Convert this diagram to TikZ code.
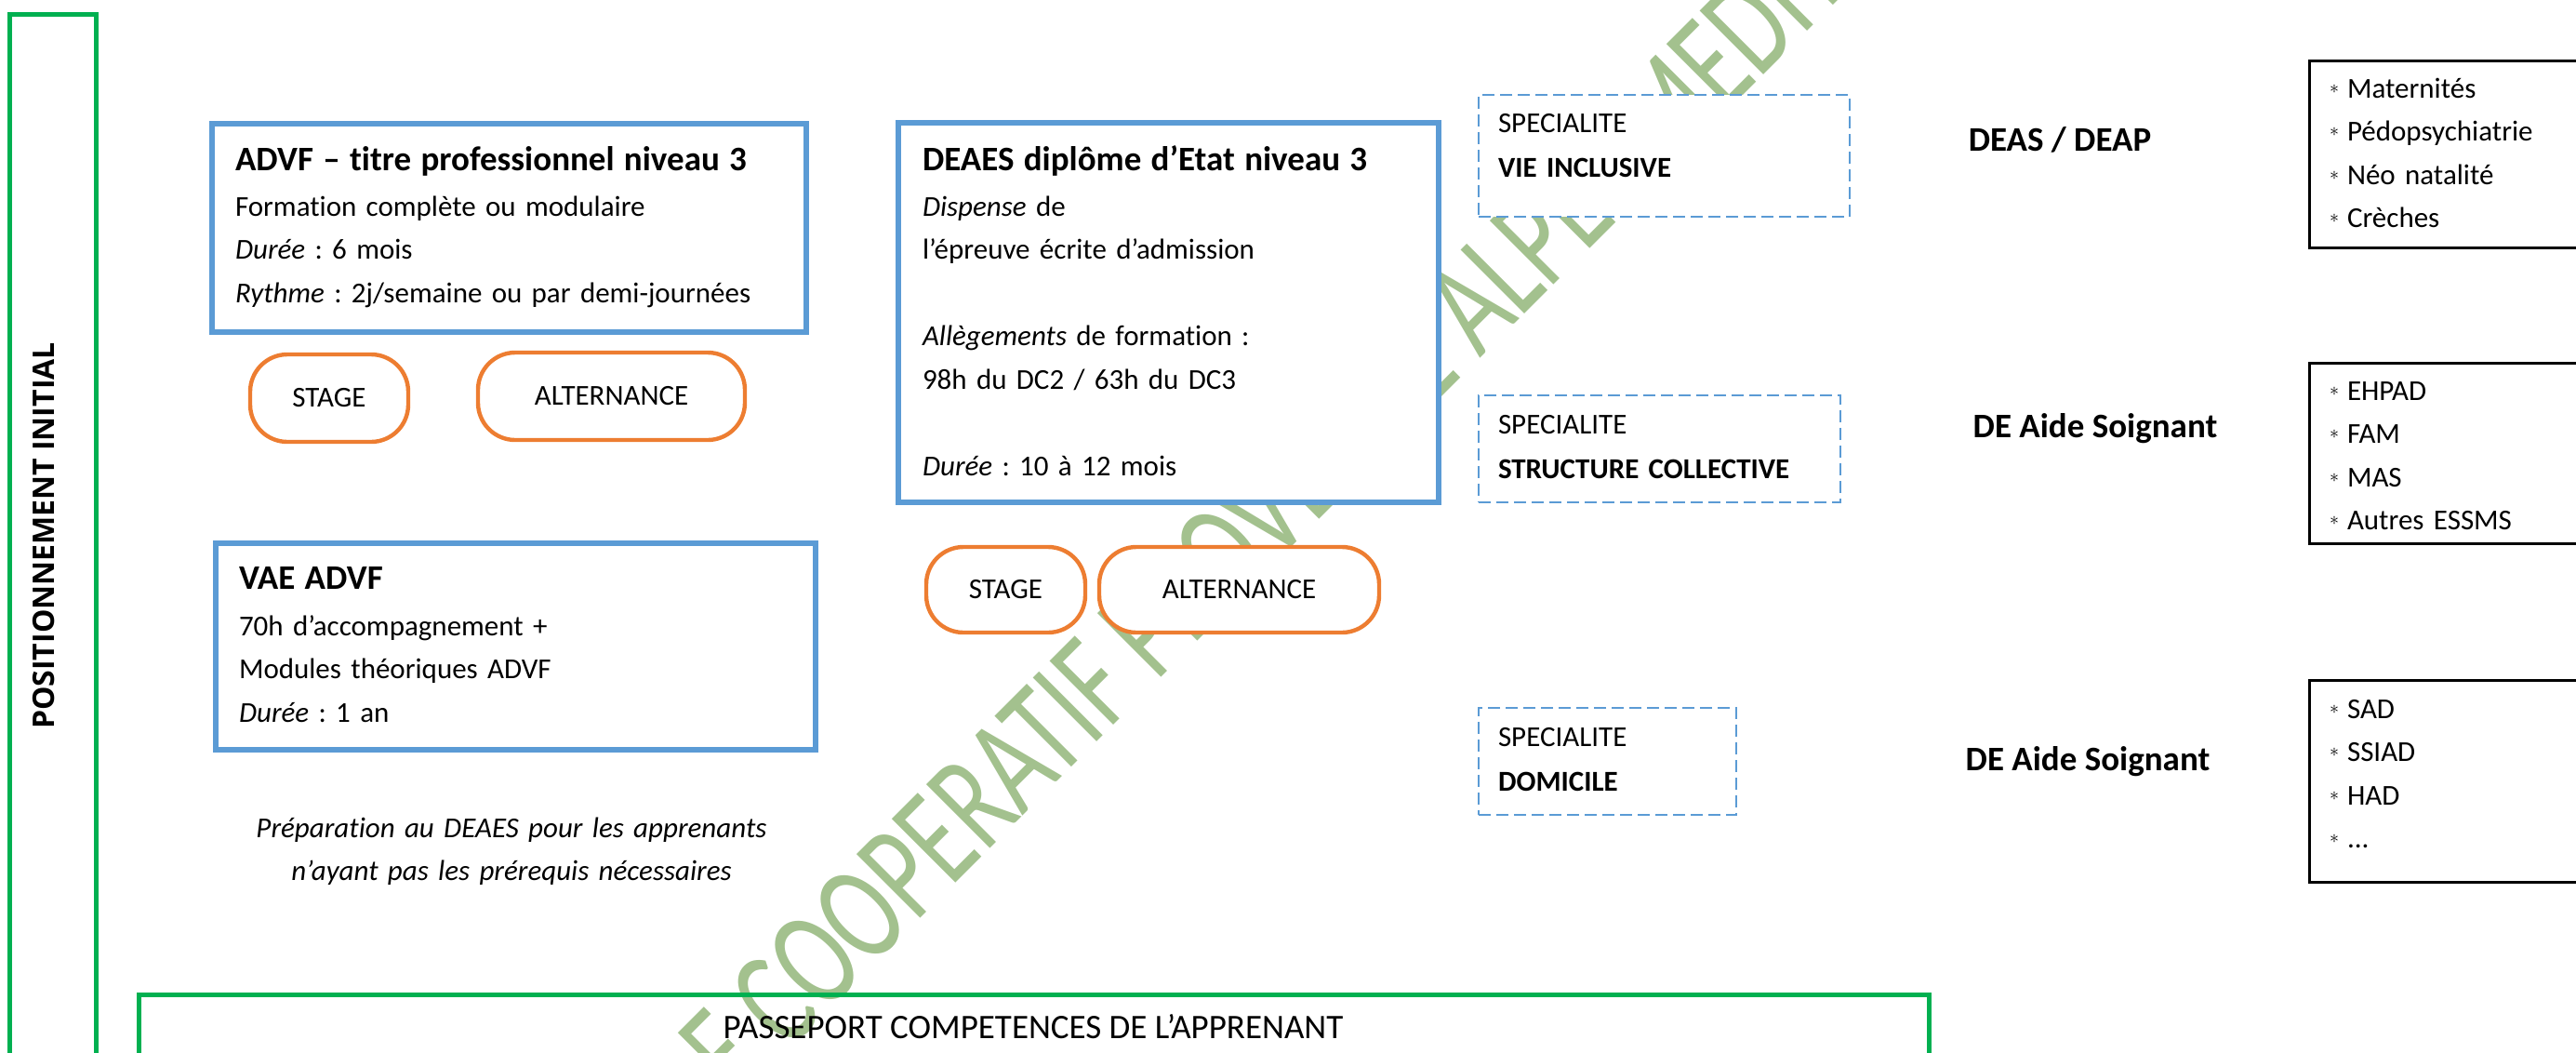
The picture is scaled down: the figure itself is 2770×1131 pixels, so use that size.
\documentclass[tikz,border=0pt]{standalone}
\usepackage{graphicx}
\usepackage{fontspec}
\setmainfont{Carlito}[Ligatures=NoCommon]
\newfontfamily\sidefont{Open Sans}
\frenchspacing
\definecolor{boxblue}{HTML}{5B9BD5}
\definecolor{pillorange}{HTML}{ED7D31}
\definecolor{framegreen}{HTML}{00B050}
\definecolor{markgreen}{HTML}{A3C18E}
\newcommand{\bodyfont}{\fontsize{15.5}{23.25}\selectfont}
\newcommand{\headfont}{\fontsize{18.5}{23.25}\selectfont\bfseries}
\newcommand{\markfont}{\fontsize{75.5}{75.5}\selectfont}
\newcommand{\bul}{\makebox[9.5pt][l]{\raisebox{2.5pt}{\fontsize{10}{10}\selectfont$\ast$}}}
\begin{document}
\begin{tikzpicture}[x=0.5pt, y=-0.5pt, inner sep=0, outer sep=0,
  frame/.style={draw=framegreen, line width=2.5pt},
  bluebox/.style={draw=boxblue, line width=3pt, fill=white},
  pill/.style={draw=pillorange, line width=2.2pt, fill=white, rounded corners=20pt, font=\bodyfont},
  dashbox/.style={draw=boxblue, line width=1.25pt, dash pattern=on 6.5pt off 3pt, fill=white},
  listbox/.style={draw=black, line width=1.5pt, fill=white},
  txt/.style={anchor=base west, text width=300pt, align=left, font=\bodyfont},
  lbl/.style={anchor=base, font=\headfont},
  wmark/.style={rotate=45, text=markgreen, font=\markfont}]

\clip (0,0) rectangle (2770,1131);

% watermark
\node [wmark, anchor=base west] (wm) at (846,1131) {\scalebox{0.7}[1]{COOPERATIF PROVENCE ALPES MEDITERRANEE}};
\node [wmark, anchor=base east] (wm0) at (wm.base west) {\scalebox{0.7}[1]{POLE\ }};

% frames
\node [frame, minimum width=46.5pt, minimum height=575pt] (posframe) at (56.5,590) {};
\node [rotate=90, font={\sidefont\fontsize{16}{16}\selectfont\bfseries}] (posit) at (47,576) {POSITIONNEMENT INITIAL};
\node [frame, minimum width=962.5pt, minimum height=90.5pt] (passframe) at (1111.5,1159.5) {};
\node [anchor=base, font=\fontsize{18.5}{18.5}\selectfont] (pass) at (1111,1116) {PASSEPORT COMPETENCES DE L’APPRENANT};

% ADVF
\node [bluebox, minimum width=319.5pt, minimum height=112pt] (advf) at (547.5,245) {};
\node [txt] (advf-txt) at (253,183) {{\headfont ADVF – titre professionnel niveau 3}\\[1.25pt]
  Formation complète ou modulaire\\
  \textit{Durée} : 6 mois\\
  \textit{Rythme} : 2j/semaine ou par demi-journées};
\node [pill, minimum width=85pt, minimum height=47pt] (stage1) at (354,428) {STAGE};
\node [pill, minimum width=143.5pt, minimum height=47pt] (alt1) at (657.5,426) {ALTERNANCE};

% VAE
\node [bluebox, minimum width=322.5pt, minimum height=111pt] (vae) at (554.5,695) {};
\node [txt] (vae-txt) at (257,633) {{\headfont VAE ADVF}\\[1.75pt]
  70h d’accompagnement +\\
  Modules théoriques ADVF\\
  \textit{Durée} : 1 an};
\node [anchor=base, text width=300pt, align=center, font=\bodyfont\itshape] (prep) at (550,900) {Préparation au DEAES pour les apprenants\\
  n’ayant pas les prérequis nécessaires};

% DEAES
\node [bluebox, minimum width=290.5pt, minimum height=204pt] (deaes) at (1256.5,336) {};
\node [txt] (deaes-txt) at (992,183) {{\headfont DEAES diplôme d’Etat niveau 3}\\[1.25pt]
  \textit{Dispense} de\\
  l’épreuve écrite d’admission\\[23.25pt]
  \textit{Allègements} de formation :\\
  98h du DC2 / 63h du DC3\\[23.25pt]
  \textit{Durée} : 10 à 12 mois};
\node [pill, minimum width=85.5pt, minimum height=46pt] (stage2) at (1081.5,634) {STAGE};
\node [pill, minimum width=150.5pt, minimum height=46pt] (alt2) at (1332.5,634) {ALTERNANCE};

% specialites
\node [dashbox, minimum width=199.5pt, minimum height=65.5pt] (spe1) at (1789.5,167.5) {};
\node [txt] (spe1-txt) at (1611,142) {SPECIALITE\\[0.75pt] \textbf{VIE INCLUSIVE}};
\node [dashbox, minimum width=194.5pt, minimum height=57.5pt] (spe2) at (1784.5,482.5) {};
\node [txt] (spe2-txt) at (1611,466) {SPECIALITE\\[0.75pt] \textbf{STRUCTURE COLLECTIVE}};
\node [dashbox, minimum width=138.5pt, minimum height=57.5pt] (spe3) at (1728.5,818.5) {};
\node [txt] (spe3-txt) at (1611,802) {SPECIALITE\\[0.75pt] \textbf{DOMICILE}};

% diplomes
\node [lbl] (deas) at (2215,162) {DEAS / DEAP};
\node [lbl] (as1) at (2253,470) {DE Aide Soignant};
\node [lbl] (as2) at (2245,828) {DE Aide Soignant};

% lieux
\node [listbox, minimum width=168.5pt, minimum height=100.5pt] (lieux1) at (2651.5,165.5) {};
\node [txt] (lieux1-txt) at (2505,105) {\bul Maternités\\ \bul Pédopsychiatrie\\ \bul Néo natalité\\ \bul Crèches};
\node [listbox, minimum width=168.5pt, minimum height=97pt] (lieux2) at (2651.5,487) {};
\node [txt] (lieux2-txt) at (2505,430) {\bul EHPAD\\ \bul FAM\\ \bul MAS\\ \bul Autres ESSMS};
\node [listbox, minimum width=168.5pt, minimum height=108.5pt] (lieux3) at (2651.5,839.5) {};
\node [txt] (lieux3-txt) at (2505,772) {\bul SAD\\ \bul SSIAD\\ \bul HAD\\ \bul ...};
\end{tikzpicture}
\end{document}
